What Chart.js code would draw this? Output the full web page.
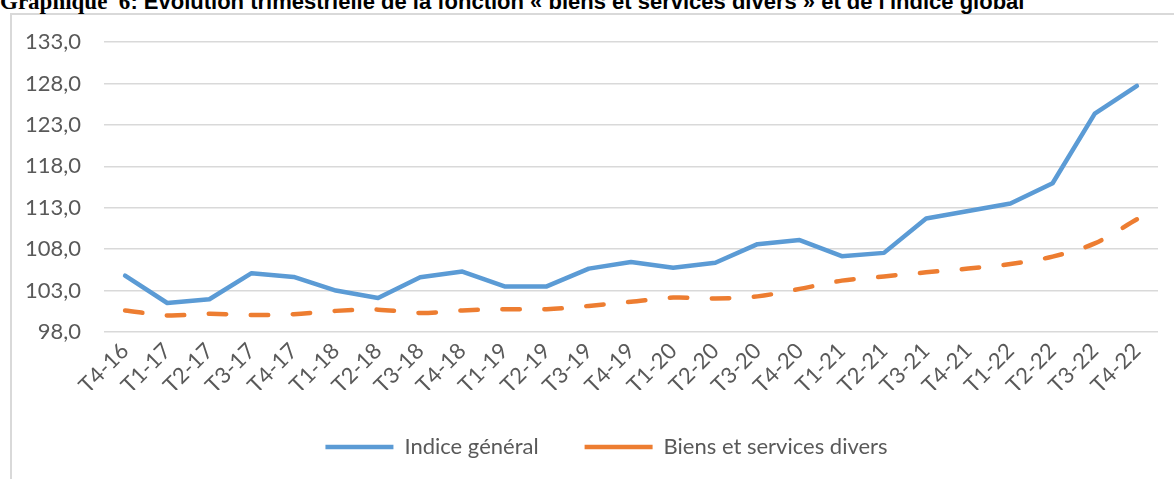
<!DOCTYPE html>
<html>
<head>
<meta charset="utf-8">
<script src="https://cdn.jsdelivr.net/npm/chart.js@4.4.1/dist/chart.umd.min.js"></script>
<style>
  html, body { margin: 0; padding: 0; background: #ffffff; }
  body { width: 1174px; height: 479px; position: relative; overflow: hidden; }
  #frame { position: absolute; left: 10px; top: 13px; width: 1200px; height: 500px;
           border-left: 2px solid #d9d9d9; border-top: 2px solid #d9d9d9; }
  #title { position: absolute; left: 0px; top: -11px; white-space: nowrap; line-height: 22px;
           font: bold 22px "Liberation Sans", Arial, sans-serif; color: #000; }
  #title .serif { font-family: "Liberation Serif", "Times New Roman", serif; font-size: 23px; }
  #wrap { position: absolute; left: 0; top: 0; width: 1174px; height: 479px; }
</style>
</head>
<body>
<div id="frame"></div>
<div id="title"><span class="serif">Graphique&nbsp; 6</span>: Evolution trimestrielle de la fonction « biens et services divers » et de l'indice global</div>
<div id="wrap"><canvas id="c" width="1174" height="479"></canvas></div>
<script>
const categories = ['T4-16','T1-17','T2-17','T3-17','T4-17','T1-18','T2-18','T3-18','T4-18',
  'T1-19','T2-19','T3-19','T4-19','T1-20','T2-20','T3-20','T4-20',
  'T1-21','T2-21','T3-21','T4-21','T1-22','T2-22','T3-22','T4-22'];

const indiceGeneral = [104.8, 101.5, 101.95, 105.1, 104.65, 103.0, 102.1, 104.6, 105.3,
  103.5, 103.5, 105.65, 106.45, 105.75, 106.35, 108.6, 109.1,
  107.15, 107.55, 111.7, 112.6, 113.5, 115.95, 124.35, 127.7];

const biensServicesDivers = [100.6, 100.0, 100.2, 100.05, 100.15, 100.55, 100.7, 100.3, 100.6,
  100.75, 100.75, 101.15, 101.65, 102.15, 102.05, 102.3, 103.2,
  104.2, 104.7, 105.2, 105.65, 106.2, 107.1, 108.7, 111.6];

const yTicks = [98, 103, 108, 113, 118, 123, 128, 133];

const seriesNames = ['Indice général', 'Biens et services divers'];

const FONT = { family: 'Lato, "Open Sans", sans-serif', size: 22 };
const TXT = '#595959';

const legendShift = {
  id: 'legendShift',
  afterLayout(chart) {
    if (chart.legend) { chart.legend.left += 45; }
  }
};

new Chart(document.getElementById('c'), {
  type: 'line',
  data: {
    labels: categories,
    datasets: [
      {
        label: seriesNames[0],
        data: indiceGeneral,
        borderColor: '#5B9BD5',
        backgroundColor: '#5B9BD5',
        borderWidth: 4.5,
        borderCapStyle: 'round',
        borderJoinStyle: 'round',
        pointRadius: 0,
        tension: 0,
        fill: false
      },
      {
        label: seriesNames[1],
        data: biensServicesDivers,
        borderColor: '#ED7D31',
        backgroundColor: '#ED7D31',
        borderWidth: 4.5,
        borderDash: [17.5, 24.5],
        borderCapStyle: 'round',
        borderJoinStyle: 'round',
        pointRadius: 0,
        tension: 0.33,
        fill: false
      }
    ]
  },
  plugins: [legendShift],
  options: {
    responsive: false,
    animation: false,
    devicePixelRatio: 1,
    layout: { padding: { left: 10, right: 16, top: 42, bottom: 11 } },
    plugins: {
      title: { display: false },
      tooltip: { enabled: false },
      legend: {
        display: true,
        position: 'bottom',
        align: 'center',
        labels: {
          usePointStyle: true,
          pointStyle: 'line',
          pointStyleWidth: 68,
          boxWidth: 68,
          padding: 46,
          color: TXT,
          font: FONT
        }
      }
    },
    scales: {
      x: {
        type: 'category',
        offset: true,
        grid: { display: false, drawTicks: false },
        border: { display: false },
        ticks: {
          color: TXT,
          font: FONT,
          autoSkip: false,
          minRotation: 45,
          maxRotation: 45,
          padding: 6
        },
        afterFit: (s) => { s.height = 58; }
      },
      y: {
        min: 98,
        max: 133,
        afterBuildTicks: (s) => { s.ticks = yTicks.map(v => ({ value: v })); },
        grid: { color: '#d9d9d9', lineWidth: 1.5, drawTicks: false },
        border: { display: false },
        ticks: {
          color: TXT,
          font: FONT,
          padding: 23,
          callback: (v) => Number(v).toFixed(1).replace('.', ',')
        },
        afterFit: (s) => { s.width = 94; }
      }
    }
  }
});
</script>
</body>
</html>
